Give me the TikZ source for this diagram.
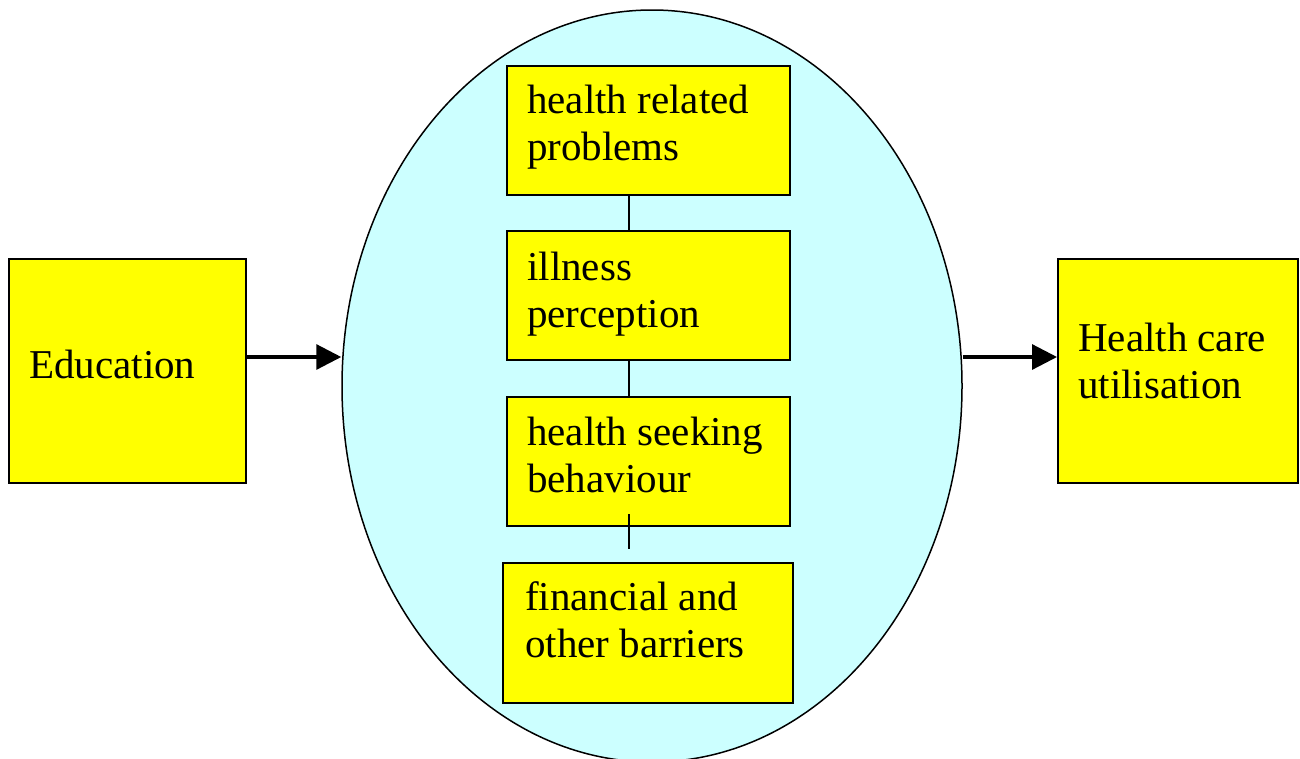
\documentclass[tikz,border=0pt]{standalone}
\usepackage{fontspec}
\setmainfont{Liberation Serif}
\usetikzlibrary{arrows.meta,shapes.geometric}
\definecolor{boxyellow}{HTML}{FFFF00}
\definecolor{ellcyan}{HTML}{CCFFFF}
\tikzset{
  ybox/.style={draw=black, line width=2pt, fill=boxyellow, inner sep=0pt},
  txt/.style={anchor=base west, inner sep=0pt, align=left, font=\fontsize{41pt}{47pt}\selectfont},
  conn/.style={draw=black, line width=1.3pt},
  bigarrow/.style={draw=black, line width=3.2pt, -{Triangle[length=25pt,width=25pt]}}
}
\begin{document}
\begin{tikzpicture}[x=1pt,y=-1pt]
\useasboundingbox (0,0) rectangle (1300,758);
% ellipse
\node[ellipse, draw=black, line width=1.5pt, fill=ellcyan, minimum width=620pt, minimum height=752pt, inner sep=0pt] (ell) at (652,386) {};
% side boxes
\node[ybox, minimum width=237pt, minimum height=224pt] (edu) at (127.5,371) {};
\node[ybox, minimum width=240pt, minimum height=224pt] (hc) at (1178,371) {};
% inner boxes
\node[ybox, minimum width=283pt, minimum height=129pt] (b1) at (648.5,130.5) {};
\node[ybox, minimum width=283pt, minimum height=129pt] (b2) at (648.5,295.5) {};
\node[ybox, minimum width=283pt, minimum height=129pt] (b3) at (648.5,461.5) {};
\node[ybox, minimum width=290pt, minimum height=140pt] (b4) at (648,633) {};
% texts (base anchor = last line's baseline)
\node[txt] (tedu) at (29,378) {Education};
\node[txt] (thc) at (1078,398) {Health care\\utilisation};
\node[txt] (t1) at (527,160) {health related\\problems};
\node[txt] (t2) at (527,327) {illness\\perception};
\node[txt] (t3) at (527,492) {health seeking\\behaviour};
\node[txt] (t4) at (525,657) {financial and\\other barriers};
% connectors
\coordinate (cx) at (629,0);
\draw[conn] (b1.south -| cx) -- (b2.north -| cx);
\draw[conn] (b2.south -| cx) -- (b3.north -| cx);
\coordinate (c3a) at ([yshift=13pt]b3.south -| cx);
\coordinate (c3b) at ([yshift=13pt]b4.north -| cx);
\draw[conn] (c3a) -- (c3b);
% arrows
\coordinate (a1) at ([yshift=14pt]edu.east);
\draw[bigarrow] (a1) -- (a1 -| ell.west);
\coordinate (a2) at ([yshift=14pt]hc.west);
\draw[bigarrow] (a2 -| ell.east) -- (a2);
\end{tikzpicture}
\end{document}
